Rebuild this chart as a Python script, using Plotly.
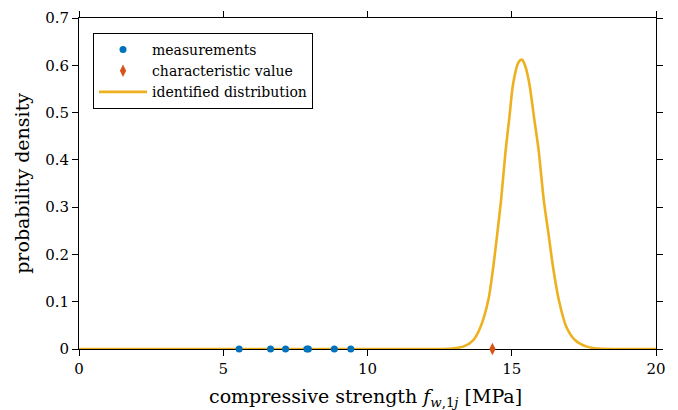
import plotly.graph_objects as go

# measurements (MPa), plotted at zero density
meas_x = [5.55, 6.64, 7.16, 7.90, 7.95, 8.85, 9.42]
meas_y = [0, 0, 0, 0, 0, 0, 0]

# characteristic value
char_x = [14.33]
char_y = [0]

# identified distribution
dist_x = [0, 5, 10, 12.0, 12.8, 13.32, 13.67, 13.92, 14.19, 14.36, 14.50, 14.63, 14.79,
          14.92, 15.05, 15.23, 15.35, 15.47, 15.61, 15.77, 15.93, 16.11, 16.27,
          16.43, 16.63, 16.89, 17.19, 17.60, 18.0, 19.0, 20]
dist_y = [0, 0, 0, 0, 0.0005, 0.005, 0.019, 0.047, 0.104, 0.174, 0.245, 0.315, 0.421,
          0.491, 0.562, 0.606, 0.612, 0.598, 0.561, 0.491, 0.421, 0.315, 0.245,
          0.174, 0.104, 0.047, 0.019, 0.005, 0.001, 0, 0]

x_ticks = [0, 5, 10, 15, 20]
y_ticks = [0, 0.1, 0.2, 0.3, 0.4, 0.5, 0.6, 0.7]
y_tick_text = ["0", "0.1", "0.2", "0.3", "0.4", "0.5", "0.6", "0.7"]

FONT = "DejaVu Serif"

fig = go.Figure()
fig.add_trace(go.Scatter(x=dist_x, y=dist_y, mode="lines", name="identified distribution",
                         legendrank=3,
                         line=dict(color="#EDB120", width=2.6, shape="spline", smoothing=0.8)))
fig.add_trace(go.Scatter(x=meas_x, y=meas_y, mode="markers", name="measurements",
                         legendrank=1,
                         marker=dict(color="#0072BD", size=7, symbol="circle"),
                         cliponaxis=False))
fig.add_trace(go.Scatter(x=char_x, y=char_y, mode="markers", name="characteristic value",
                         legendrank=2,
                         marker=dict(color="#D95319", size=9, symbol="diamond-tall"),
                         cliponaxis=False))

axis_common = dict(showgrid=False, zeroline=False, showline=True, linecolor="black",
                   linewidth=1, mirror="ticks", ticks="outside", ticklen=6,
                   tickcolor="black", tickwidth=1, layer="below traces",
                   automargin=False,
                   tickfont=dict(family=FONT, size=15, color="black"))

# the page body adds an 8px margin, so the figure is 8px smaller and margins shifted
fig.update_layout(
    width=670, height=402,
    margin=dict(l=71, r=22, t=10, b=61),
    paper_bgcolor="white", plot_bgcolor="white",
    font=dict(family=FONT, color="black"),
    showlegend=True,
    legend=dict(x=0.0243, y=0.955, xanchor="left", yanchor="top",
                bgcolor="white", bordercolor="black", borderwidth=1,
                font=dict(family=FONT, size=14, color="black"),
                tracegroupgap=0, itemwidth=48),
    xaxis=dict(range=[0, 20], tickvals=x_ticks, ticktext=[str(v) for v in x_ticks],
               **axis_common),
    yaxis=dict(range=[0, 0.7], tickvals=y_ticks, ticktext=y_tick_text,
               **axis_common),
    annotations=[
        dict(text="compressive strength <i>f</i><sub><i>w</i>,1<i>j</i></sub> [MPa]",
             xref="paper", yref="paper", x=0.497, y=-0.148,
             xanchor="center", yanchor="middle", showarrow=False,
             font=dict(family=FONT, size=19, color="black")),
        dict(text="probability density", textangle=-90,
             xref="paper", yref="paper", x=-0.1, y=0.5,
             xanchor="center", yanchor="middle", showarrow=False,
             font=dict(family=FONT, size=19, color="black")),
    ],
)

fig.write_html("out.html")
